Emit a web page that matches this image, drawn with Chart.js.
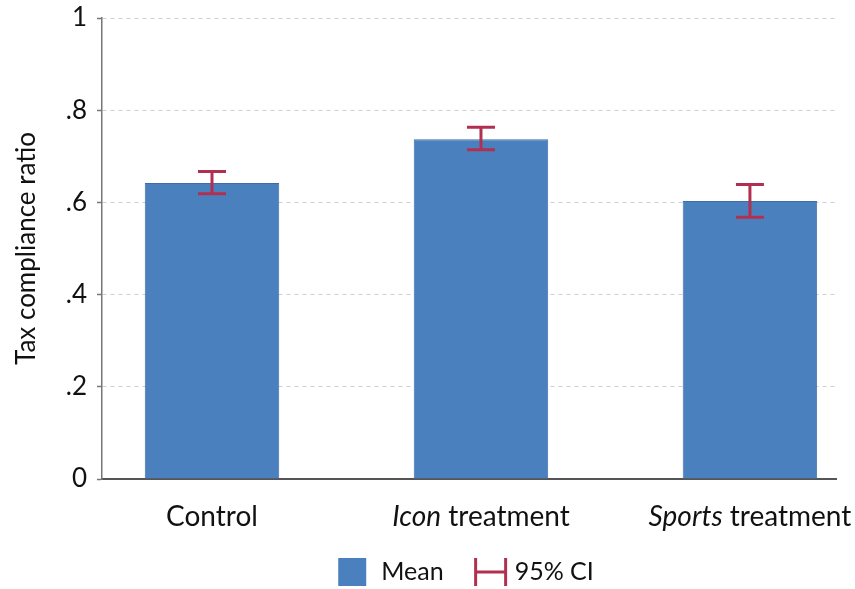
<!DOCTYPE html>
<html>
<head>
<meta charset="utf-8">
<script src="https://cdn.jsdelivr.net/npm/chart.js@4"></script>
<style>
  html, body { margin: 0; padding: 0; background: #fff; }
  #wrap { width: 855px; height: 589px; position: relative; }
</style>
</head>
<body>
<div id="wrap"><canvas id="c" width="855" height="589"></canvas></div>
<script>
const categories = ["Control", "Icon treatment", "Sports treatment"];
const labelItalic = ["", "Icon", "Sports"];
const labelRoman = ["Control", " treatment", " treatment"];
const means = [0.642, 0.737, 0.603];
const ciLow = [0.619, 0.714, 0.568];
const ciHigh = [0.667, 0.763, 0.639];
const yTicks = [0, 0.2, 0.4, 0.6, 0.8, 1];
const yTickLabels = ["0", ".2", ".4", ".6", ".8", "1"];
const legendLabels = ["Mean", "95% CI"];

const FONT = "Lato, 'Open Sans', sans-serif";
const BAR = "#4b80be";
const BAR_EDGE = "#3d6ea9";
const CI = "#b2304f";

const errorBars = {
  id: 'errorBars',
  afterDatasetsDraw(chart) {
    const { ctx, scales: { x, y } } = chart;
    ctx.save();
    ctx.strokeStyle = CI;
    ctx.lineWidth = 3;
    ctx.lineCap = 'butt';
    means.forEach((m, i) => {
      const px = x.getPixelForValue(i);
      const yl = y.getPixelForValue(ciLow[i]);
      const yh = y.getPixelForValue(ciHigh[i]);
      const half = 14;
      ctx.beginPath();
      ctx.moveTo(px, yl); ctx.lineTo(px, yh);
      ctx.moveTo(px - half, yl); ctx.lineTo(px + half, yl);
      ctx.moveTo(px - half, yh); ctx.lineTo(px + half, yh);
      ctx.stroke();
    });
    ctx.restore();
  },
  afterDraw(chart) {
    const { ctx, scales: { x }, chartArea } = chart;
    ctx.save();
    ctx.fillStyle = '#111';
    ctx.textBaseline = 'middle';
    const fs = 28;
    const ly = 517;
    categories.forEach((c, i) => {
      const px = x.getPixelForValue(i);
      ctx.font = `italic ${fs}px ${FONT}`;
      const wi = ctx.measureText(labelItalic[i]).width;
      ctx.font = `${fs}px ${FONT}`;
      const wr = ctx.measureText(labelRoman[i]).width;
      let sx = px - (wi + wr) / 2;
      ctx.textAlign = 'left';
      ctx.font = `italic ${fs}px ${FONT}`;
      ctx.fillText(labelItalic[i], sx, ly);
      ctx.font = `${fs}px ${FONT}`;
      ctx.fillText(labelRoman[i], sx + wi, ly);
    });
    // legend
    const legY = 572;
    ctx.font = `25px ${FONT}`;
    const w0 = ctx.measureText(legendLabels[0]).width;
    const w1 = ctx.measureText(legendLabels[1]).width;
    const box = 28, gap1 = 15, gapItem = 32, symW = 30, gap2 = 9;
    const total = box + gap1 + w0 + gapItem + symW + gap2 + w1;
    let sx = (chartArea.left + chartArea.right) / 2 - total / 2 - 3;
    ctx.fillStyle = BAR;
    ctx.fillRect(sx, legY - box / 2, box, box);
    ctx.fillStyle = '#111';
    ctx.fillText(legendLabels[0], sx + box + gap1, legY);
    sx += box + gap1 + w0 + gapItem;
    ctx.strokeStyle = CI;
    ctx.lineWidth = 3;
    ctx.beginPath();
    ctx.moveTo(sx, legY - 14); ctx.lineTo(sx, legY + 14);
    ctx.moveTo(sx + symW, legY - 14); ctx.lineTo(sx + symW, legY + 14);
    ctx.moveTo(sx, legY); ctx.lineTo(sx + symW, legY);
    ctx.stroke();
    ctx.fillText(legendLabels[1], sx + symW + gap2, legY);
    ctx.restore();
  }
};

new Chart(document.getElementById('c'), {
  type: 'bar',
  data: {
    datasets: [{
      label: legendLabels[0],
      data: means.map((m, i) => ({ x: i, y: m })),
      backgroundColor: BAR,
      borderColor: BAR_EDGE,
      borderWidth: 1,
      barPercentage: 0.5,
      categoryPercentage: 1.0
    }]
  },
  plugins: [errorBars],
  options: {
    responsive: false,
    animation: false,
    layout: { padding: { top: 18, right: 19, left: 0, bottom: 0 } },
    plugins: { legend: { display: false }, tooltip: { enabled: false } },
    scales: {
      x: {
        type: 'linear',
        offset: false,
        min: -0.409,
        max: 2.32,
        afterBuildTicks(s) { s.ticks = categories.map((c, i) => ({ value: i })); },
        grid: { display: false, drawTicks: false },
        border: { display: true, color: '#555', width: 2 },
        ticks: { display: false },
        afterFit(s) { s.height = 589 - 479; s.paddingLeft = 0; s.paddingRight = 0; }
      },
      y: {
        min: 0,
        max: 1,
        afterBuildTicks(s) { s.ticks = yTicks.map(v => ({ value: v })); },
        ticks: {
          callback: (v, i) => yTickLabels[i],
          font: { family: FONT, size: 26 },
          color: '#111',
          padding: 10
        },
        grid: {
          color: ctx => (ctx.tick && ctx.tick.value === 0) ? 'rgba(0,0,0,0)' : '#cfcfcf',
          lineWidth: 1,
          tickColor: '#777',
          tickLength: 5,
          tickWidth: 1.5,
          tickBorderDash: []
        },
        border: { display: true, color: '#777', width: 1.5, dash: [4, 4] },
        title: {
          display: true,
          text: 'Tax compliance ratio',
          font: { family: FONT, size: 26 },
          color: '#111',
          padding: { top: 11, bottom: 8 }
        },
        afterFit(s) { s.width = 102; s.paddingTop = 0; s.paddingBottom = 0; }
      }
    }
  }
});
</script>
</body>
</html>
